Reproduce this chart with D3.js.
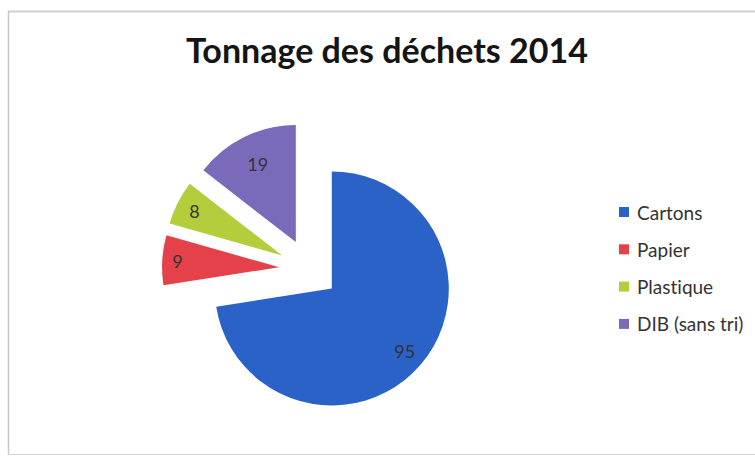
<!DOCTYPE html>
<html>
<head>
<meta charset="utf-8">
<script src="https://cdn.jsdelivr.net/npm/d3@7"></script>
<style>
  html, body { margin: 0; padding: 0; background: #fff; }
  svg { display: block; }
  text { font-variant-ligatures: none; font-feature-settings: "liga" 0; }
</style>
</head>
<body>
<svg id="chart" width="755" height="457"></svg>
<script>
const categories = ["Cartons", "Papier", "Plastique", "DIB (sans tri)"];
const values = [95, 9, 8, 19];
const colors = ["#2a62c7", "#e5414b", "#b3cd3b", "#7b69b9"];
const title = "Tonnage des déchets 2014";

// style / layout
const labelRadiusFrac = [0.82, 0.87, 0.84, 0.74];
const W = 755, H = 457;
const cx = 309, cy = 269, R = 117, explode = 30;
const font = "Lato, 'Open Sans', sans-serif";

const svg = d3.select("#chart");

// frame
svg.append("rect").attr("x", 0).attr("y", 0).attr("width", W).attr("height", H).attr("fill", "#fff");
svg.append("line").attr("x1", 8).attr("x2", W).attr("y1", 11.5).attr("y2", 11.5).attr("stroke", "#cfcfcf").attr("stroke-width", 2);
svg.append("line").attr("x1", 8.5).attr("x2", 8.5).attr("y1", 11).attr("y2", 455).attr("stroke", "#c8c8c8").attr("stroke-width", 1.5);
svg.append("line").attr("x1", 8).attr("x2", W).attr("y1", 454.5).attr("y2", 454.5).attr("stroke", "#d8d8d8").attr("stroke-width", 1);

// title
svg.append("text")
  .attr("x", 387).attr("y", 63)
  .attr("text-anchor", "middle")
  .attr("font-family", font)
  .attr("font-weight", "bold")
  .attr("font-size", 34)
  .attr("fill", "#151515")
  .text(title);

const data = categories.map((c, i) => ({ cat: c, value: values[i], color: colors[i], lf: labelRadiusFrac[i] }));
const pie = d3.pie().sort(null).value(d => d.value).startAngle(0).endAngle(2 * Math.PI);
const arcs = pie(data);
const arc = d3.arc().innerRadius(0).outerRadius(R);

const g = svg.append("g").attr("transform", `translate(${cx},${cy})`);
const slices = g.selectAll("g.slice").data(arcs).enter().append("g")
  .attr("class", "slice")
  .attr("transform", d => {
    const m = (d.startAngle + d.endAngle) / 2;
    return `translate(${explode * Math.sin(m)},${-explode * Math.cos(m)})`;
  });

slices.append("path").attr("d", arc).attr("fill", d => d.data.color);

slices.append("text")
  .attr("x", d => { const m = (d.startAngle + d.endAngle) / 2; return R * d.data.lf * Math.sin(m); })
  .attr("y", d => { const m = (d.startAngle + d.endAngle) / 2; return -R * d.data.lf * Math.cos(m); })
  .attr("text-anchor", "middle")
  .attr("dominant-baseline", "central")
  .attr("font-family", font)
  .attr("font-size", 18)
  .attr("fill", "#333")
  .text(d => d.data.value);

// legend
const leg = svg.append("g").attr("transform", "translate(619,212)");
const items = leg.selectAll("g").data(data).enter().append("g")
  .attr("transform", (d, i) => `translate(0,${i * 37.3})`);
items.append("rect").attr("x", 0).attr("y", -5).attr("width", 10).attr("height", 10).attr("fill", d => d.color);
items.append("text")
  .attr("x", 18).attr("y", 0)
  .attr("dominant-baseline", "central")
  .attr("font-family", font)
  .attr("font-size", 19)
  .attr("fill", "#333")
  .text(d => d.cat);
</script>
</body>
</html>
